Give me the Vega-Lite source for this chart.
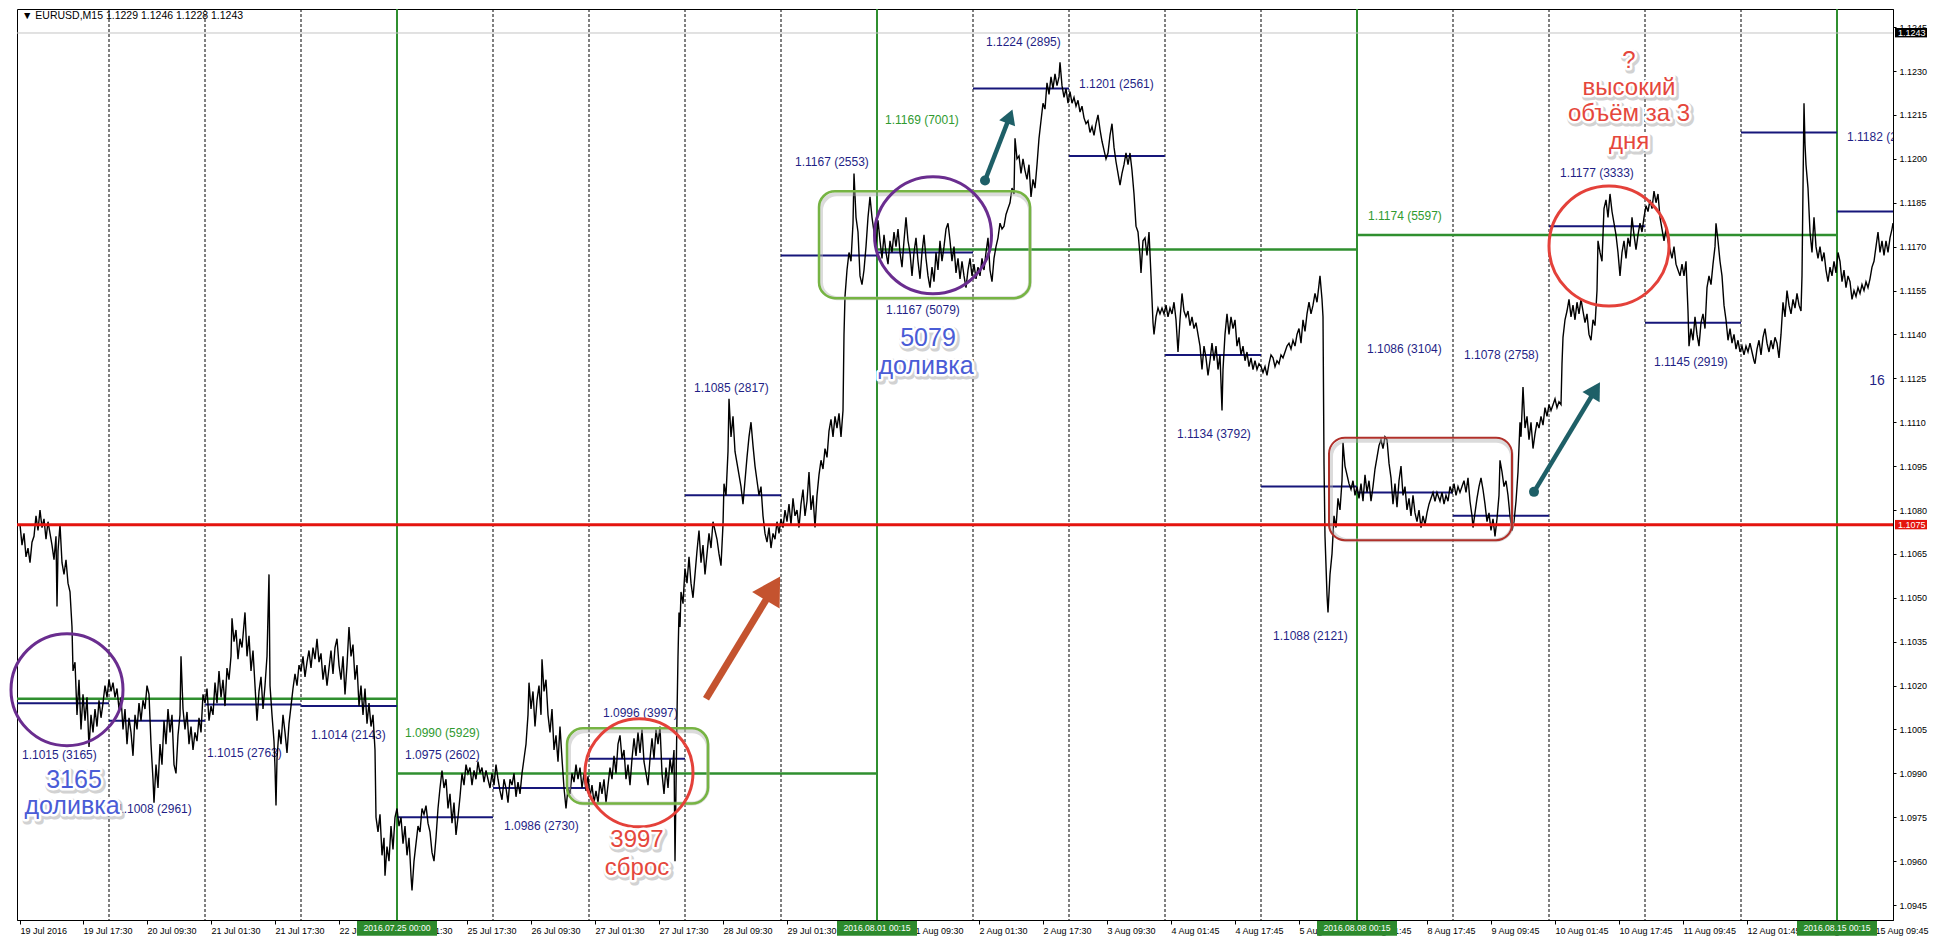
{
"$schema":"https://vega.github.io/schema/vega-lite/v6.json",
"width":1876,"height":911,
"autosize":{"type":"none"},
"padding":{"left":17,"top":9,"right":42,"bottom":23},
"background":"white",
"config":{"view":{"stroke":"#000","strokeWidth":1},"axis":{"labelFont":"Liberation Sans","labelFontSize":9,"labelColor":"#000","domainColor":"#000","tickColor":"#000","grid":false},"text":{"font":"Liberation Sans"}},
"datasets":{
"days":[{"b":96},{"b":192},{"b":288},{"b":480},{"b":576},{"b":672},{"b":768},{"b":960},{"b":1056},{"b":1152},{"b":1248},{"b":1440},{"b":1536},{"b":1632},{"b":1728}],
"weeks":[{"b":384},{"b":864},{"b":1344},{"b":1824}],
"dayLevels":[{"b":4,"b2":96,"p":1.1014},{"b":96,"b2":192,"p":1.1008},{"b":192,"b2":288,"p":1.10135},{"b":288,"b2":384,"p":1.1013},{"b":384,"b2":480,"p":1.0975},{"b":480,"b2":576,"p":1.0985},{"b":576,"b2":672,"p":1.0995},{"b":672,"b2":768,"p":1.1085},{"b":768,"b2":864,"p":1.1167},{"b":864,"b2":960,"p":1.1168},{"b":960,"b2":1056,"p":1.1224},{"b":1056,"b2":1152,"p":1.1201},{"b":1152,"b2":1248,"p":1.1133},{"b":1248,"b2":1344,"p":1.1088},{"b":1344,"b2":1440,"p":1.1086},{"b":1440,"b2":1536,"p":1.1078},{"b":1536,"b2":1632,"p":1.1177},{"b":1632,"b2":1728,"p":1.1144},{"b":1728,"b2":1824,"p":1.1209},{"b":1824,"b2":1880,"p":1.1182}],
"weekLevels":[{"b":4,"b2":384,"p":1.10155},{"b":384,"b2":864,"p":1.099},{"b":864,"b2":1344,"p":1.1169},{"b":1344,"b2":1824,"p":1.1174}],
"navyLabels":[{"b":9,"p":1.09963,"t":"1.1015 (3165)"},{"b":104,"p":1.0978,"t":"1.1008 (2961)"},{"b":194,"p":1.09969,"t":"1.1015 (2763)"},{"b":298,"p":1.1003,"t":"1.1014 (2143)"},{"b":392,"p":1.09963,"t":"1.0975 (2602)"},{"b":491,"p":1.0972,"t":"1.0986 (2730)"},{"b":590,"p":1.10105,"t":"1.0996 (3997)"},{"b":681,"p":1.11216,"t":"1.1085 (2817)"},{"b":782,"p":1.1199,"t":"1.1167 (2553)"},{"b":873,"p":1.11483,"t":"1.1167 (5079)"},{"b":973,"p":1.12399,"t":"1.1224 (2895)"},{"b":1066,"p":1.12257,"t":"1.1201 (2561)"},{"b":1164,"p":1.11061,"t":"1.1134 (3792)"},{"b":1260,"p":1.10368,"t":"1.1088 (2121)"},{"b":1354,"p":1.11351,"t":"1.1086 (3104)"},{"b":1451,"p":1.11331,"t":"1.1078 (2758)"},{"b":1547,"p":1.11953,"t":"1.1177 (3333)"},{"b":1641,"p":1.11307,"t":"1.1145 (2919)"},{"b":1834,"p":1.12075,"t":"1.1182 (2810)"}],
"greenLabels":[{"b":392,"p":1.10038,"t":"1.0990 (5929)"},{"b":872,"p":1.12132,"t":"1.1169 (7001)"},{"b":1355,"p":1.11803,"t":"1.1174 (5597)"}],
"blueNotes":[{"b":61,"p":1.09878,"t":"3165"},{"b":59,"p":1.09789,"t":"доливка"},{"b":915,"p":1.11388,"t":"5079"},{"b":913,"p":1.11293,"t":"доливка"}],
"redNotes":[{"b":624,"p":1.09673,"t":"3997"},{"b":624,"p":1.09575,"t":"сброс"},{"b":1616,"p":1.12334,"t":"?"},{"b":1616,"p":1.12242,"t":"высокий"},{"b":1616,"p":1.12152,"t":"объём за 3"},{"b":1616,"p":1.12058,"t":"дня"}],
"weekBoxes":[{"b":344,"b2":424,"c":384,"t":"2016.07.25 00:00"},{"b":824,"b2":904,"c":864,"t":"2016.08.01 00:15"},{"b":1304,"b2":1384,"c":1344,"t":"2016.08.08 00:15"},{"b":1784,"b2":1864,"c":1824,"t":"2016.08.15 00:15"}],
"price":[{"b":7,"p":1.1075},{"b":9,"p":1.1068},{"b":11,"p":1.1072},{"b":13,"p":1.1064},{"b":15,"p":1.1067},{"b":17,"p":1.1062},{"b":19,"p":1.1069},{"b":21,"p":1.1071},{"b":23,"p":1.1078},{"b":25,"p":1.1073},{"b":27,"p":1.108},{"b":29,"p":1.1074},{"b":31,"p":1.1077},{"b":33,"p":1.107},{"b":35,"p":1.1076},{"b":37,"p":1.1072},{"b":39,"p":1.1068},{"b":41,"p":1.1063},{"b":43,"p":1.1071},{"b":44,"p":1.1047},{"b":45,"p":1.1066},{"b":47,"p":1.1075},{"b":49,"p":1.1062},{"b":51,"p":1.1058},{"b":53,"p":1.1063},{"b":55,"p":1.1055},{"b":57,"p":1.1052},{"b":59,"p":1.104},{"b":60,"p":1.1025},{"b":62,"p":1.1028},{"b":64,"p":1.101},{"b":66,"p":1.1022},{"b":68,"p":1.1005},{"b":70,"p":1.1017},{"b":72,"p":1.1008},{"b":74,"p":1.1016},{"b":76,"p":1.0999},{"b":78,"p":1.101},{"b":80,"p":1.1004},{"b":82,"p":1.1012},{"b":84,"p":1.1006},{"b":86,"p":1.1015},{"b":88,"p":1.1009},{"b":90,"p":1.1014},{"b":92,"p":1.102},{"b":94,"p":1.1016},{"b":96,"p":1.1022},{"b":98,"p":1.1018},{"b":100,"p":1.1021},{"b":102,"p":1.1016},{"b":104,"p":1.1019},{"b":106,"p":1.1012},{"b":108,"p":1.1016},{"b":110,"p":1.1005},{"b":112,"p":1.1012},{"b":114,"p":1.1},{"b":116,"p":1.1009},{"b":118,"p":1.1004},{"b":120,"p":1.0996},{"b":122,"p":1.101},{"b":124,"p":1.1005},{"b":126,"p":1.1014},{"b":128,"p":1.1008},{"b":130,"p":1.1015},{"b":132,"p":1.1012},{"b":134,"p":1.102},{"b":136,"p":1.1017},{"b":138,"p":1.1},{"b":140,"p":1.0988},{"b":141,"p":1.098},{"b":143,"p":1.0993},{"b":145,"p":1.0985},{"b":147,"p":1.1},{"b":149,"p":1.0993},{"b":151,"p":1.1008},{"b":153,"p":1.1},{"b":155,"p":1.1012},{"b":157,"p":1.1004},{"b":159,"p":1.101},{"b":161,"p":1.0993},{"b":163,"p":1.099},{"b":165,"p":1.1003},{"b":167,"p":1.101},{"b":168,"p":1.103},{"b":170,"p":1.1012},{"b":172,"p":1.1005},{"b":174,"p":1.1011},{"b":176,"p":1.1},{"b":178,"p":1.1006},{"b":180,"p":1.0998},{"b":182,"p":1.1004},{"b":184,"p":1.1001},{"b":186,"p":1.1009},{"b":188,"p":1.1004},{"b":190,"p":1.1017},{"b":192,"p":1.1014},{"b":194,"p":1.1019},{"b":196,"p":1.1008},{"b":198,"p":1.1013},{"b":200,"p":1.101},{"b":202,"p":1.1021},{"b":204,"p":1.1014},{"b":206,"p":1.1025},{"b":208,"p":1.1016},{"b":210,"p":1.1022},{"b":212,"p":1.1013},{"b":214,"p":1.1026},{"b":216,"p":1.1022},{"b":218,"p":1.103},{"b":219,"p":1.1043},{"b":221,"p":1.1035},{"b":223,"p":1.1039},{"b":225,"p":1.1029},{"b":227,"p":1.1036},{"b":229,"p":1.1033},{"b":231,"p":1.1041},{"b":232,"p":1.1045},{"b":234,"p":1.103},{"b":236,"p":1.1037},{"b":238,"p":1.1025},{"b":240,"p":1.1032},{"b":242,"p":1.102},{"b":244,"p":1.1008},{"b":246,"p":1.1018},{"b":248,"p":1.1023},{"b":250,"p":1.1012},{"b":252,"p":1.102},{"b":254,"p":1.103},{"b":256,"p":1.1058},{"b":257,"p":1.102},{"b":259,"p":1.101},{"b":261,"p":1.1001},{"b":262,"p":1.0992},{"b":263,"p":1.0979},{"b":264,"p":1.0995},{"b":266,"p":1.1005},{"b":268,"p":1.1},{"b":270,"p":1.101},{"b":272,"p":1.1004},{"b":274,"p":1.0997},{"b":276,"p":1.1007},{"b":278,"p":1.1013},{"b":280,"p":1.1019},{"b":282,"p":1.1024},{"b":284,"p":1.102},{"b":286,"p":1.1027},{"b":288,"p":1.1025},{"b":290,"p":1.103},{"b":292,"p":1.1023},{"b":294,"p":1.1028},{"b":296,"p":1.1032},{"b":298,"p":1.1026},{"b":300,"p":1.1033},{"b":302,"p":1.1029},{"b":304,"p":1.1036},{"b":306,"p":1.1028},{"b":308,"p":1.1031},{"b":310,"p":1.1022},{"b":312,"p":1.1027},{"b":314,"p":1.102},{"b":316,"p":1.1026},{"b":318,"p":1.1032},{"b":320,"p":1.1024},{"b":322,"p":1.1033},{"b":324,"p":1.1036},{"b":326,"p":1.1027},{"b":328,"p":1.1022},{"b":330,"p":1.103},{"b":332,"p":1.1017},{"b":334,"p":1.1027},{"b":336,"p":1.104},{"b":338,"p":1.103},{"b":340,"p":1.1034},{"b":342,"p":1.1022},{"b":344,"p":1.1027},{"b":346,"p":1.1013},{"b":348,"p":1.102},{"b":350,"p":1.101},{"b":352,"p":1.1019},{"b":354,"p":1.1007},{"b":356,"p":1.1014},{"b":358,"p":1.1006},{"b":360,"p":1.101},{"b":362,"p":1.0998},{"b":363,"p":1.0975},{"b":365,"p":1.097},{"b":367,"p":1.0976},{"b":369,"p":1.0962},{"b":371,"p":1.0968},{"b":372,"p":1.0955},{"b":374,"p":1.0965},{"b":376,"p":1.096},{"b":378,"p":1.0972},{"b":380,"p":1.0964},{"b":382,"p":1.0975},{"b":384,"p":1.0978},{"b":386,"p":1.0972},{"b":388,"p":1.0975},{"b":390,"p":1.0966},{"b":392,"p":1.0972},{"b":394,"p":1.0962},{"b":396,"p":1.0968},{"b":398,"p":1.0955},{"b":399,"p":1.095},{"b":401,"p":1.096},{"b":403,"p":1.0966},{"b":405,"p":1.0972},{"b":407,"p":1.097},{"b":409,"p":1.0978},{"b":411,"p":1.0976},{"b":413,"p":1.0979},{"b":415,"p":1.0973},{"b":417,"p":1.097},{"b":419,"p":1.0963},{"b":421,"p":1.096},{"b":423,"p":1.0968},{"b":425,"p":1.0978},{"b":427,"p":1.0985},{"b":429,"p":1.0991},{"b":431,"p":1.0985},{"b":433,"p":1.0988},{"b":435,"p":1.0978},{"b":437,"p":1.0983},{"b":439,"p":1.0973},{"b":441,"p":1.098},{"b":443,"p":1.0969},{"b":445,"p":1.0975},{"b":447,"p":1.0982},{"b":449,"p":1.099},{"b":451,"p":1.0986},{"b":453,"p":1.0993},{"b":455,"p":1.099},{"b":457,"p":1.0992},{"b":459,"p":1.0986},{"b":461,"p":1.0991},{"b":463,"p":1.0988},{"b":465,"p":1.0994},{"b":467,"p":1.099},{"b":469,"p":1.0992},{"b":471,"p":1.0987},{"b":473,"p":1.0991},{"b":475,"p":1.0988},{"b":477,"p":1.0985},{"b":479,"p":1.099},{"b":481,"p":1.0986},{"b":483,"p":1.0993},{"b":485,"p":1.0988},{"b":487,"p":1.0984},{"b":489,"p":1.0981},{"b":491,"p":1.0988},{"b":493,"p":1.0985},{"b":495,"p":1.098},{"b":497,"p":1.0988},{"b":499,"p":1.0986},{"b":501,"p":1.099},{"b":503,"p":1.0982},{"b":505,"p":1.0987},{"b":507,"p":1.0983},{"b":509,"p":1.099},{"b":511,"p":1.0995},{"b":513,"p":1.1},{"b":515,"p":1.101},{"b":516,"p":1.1021},{"b":518,"p":1.1012},{"b":520,"p":1.1018},{"b":522,"p":1.1006},{"b":524,"p":1.1015},{"b":526,"p":1.102},{"b":528,"p":1.101},{"b":529,"p":1.1029},{"b":531,"p":1.1018},{"b":533,"p":1.1022},{"b":535,"p":1.101},{"b":537,"p":1.1004},{"b":539,"p":1.1012},{"b":541,"p":1.0998},{"b":543,"p":1.1003},{"b":545,"p":1.0994},{"b":547,"p":1.1006},{"b":549,"p":1.0995},{"b":551,"p":1.0985},{"b":553,"p":1.0978},{"b":555,"p":1.0985},{"b":557,"p":1.0983},{"b":559,"p":1.099},{"b":561,"p":1.0987},{"b":563,"p":1.0993},{"b":565,"p":1.0988},{"b":567,"p":1.0992},{"b":569,"p":1.0985},{"b":571,"p":1.099},{"b":573,"p":1.0984},{"b":575,"p":1.0989},{"b":577,"p":1.0982},{"b":579,"p":1.0986},{"b":581,"p":1.098},{"b":583,"p":1.0984},{"b":585,"p":1.098},{"b":587,"p":1.0987},{"b":589,"p":1.0983},{"b":591,"p":1.0988},{"b":593,"p":1.098},{"b":595,"p":1.0986},{"b":597,"p":1.0992},{"b":599,"p":1.0988},{"b":601,"p":1.0996},{"b":603,"p":1.099},{"b":605,"p":1.1},{"b":607,"p":1.1003},{"b":609,"p":1.0995},{"b":611,"p":1.0998},{"b":613,"p":1.0988},{"b":615,"p":1.0993},{"b":617,"p":1.0986},{"b":619,"p":1.0995},{"b":621,"p":1.1002},{"b":623,"p":1.0996},{"b":625,"p":1.1004},{"b":627,"p":1.0997},{"b":629,"p":1.1005},{"b":631,"p":1.0994},{"b":633,"p":1.099},{"b":635,"p":1.0986},{"b":637,"p":1.0995},{"b":639,"p":1.1002},{"b":641,"p":1.0995},{"b":643,"p":1.1005},{"b":645,"p":1.1},{"b":647,"p":1.1006},{"b":649,"p":1.099},{"b":651,"p":1.0983},{"b":653,"p":1.0992},{"b":655,"p":1.0985},{"b":657,"p":1.0995},{"b":659,"p":1.099},{"b":661,"p":1.0998},{"b":662,"p":1.096},{"b":663,"p":1.0985},{"b":664,"p":1.101},{"b":665,"p":1.103},{"b":666,"p":1.1045},{"b":667,"p":1.104},{"b":668,"p":1.1052},{"b":670,"p":1.1048},{"b":672,"p":1.106},{"b":674,"p":1.1055},{"b":676,"p":1.1064},{"b":678,"p":1.1055},{"b":680,"p":1.105},{"b":682,"p":1.1058},{"b":684,"p":1.1066},{"b":686,"p":1.1073},{"b":688,"p":1.1062},{"b":690,"p":1.1068},{"b":692,"p":1.1058},{"b":694,"p":1.1065},{"b":696,"p":1.1072},{"b":698,"p":1.1067},{"b":700,"p":1.1076},{"b":702,"p":1.1073},{"b":704,"p":1.107},{"b":706,"p":1.1065},{"b":708,"p":1.1061},{"b":710,"p":1.1075},{"b":711,"p":1.1089},{"b":713,"p":1.1085},{"b":715,"p":1.11},{"b":716,"p":1.1118},{"b":718,"p":1.1105},{"b":720,"p":1.1112},{"b":722,"p":1.11},{"b":724,"p":1.1096},{"b":726,"p":1.1092},{"b":728,"p":1.1088},{"b":730,"p":1.1082},{"b":732,"p":1.109},{"b":734,"p":1.1098},{"b":736,"p":1.1105},{"b":738,"p":1.111},{"b":740,"p":1.1102},{"b":742,"p":1.1095},{"b":744,"p":1.109},{"b":746,"p":1.1085},{"b":748,"p":1.1088},{"b":750,"p":1.1078},{"b":752,"p":1.1072},{"b":754,"p":1.1069},{"b":756,"p":1.1074},{"b":758,"p":1.1067},{"b":760,"p":1.1072},{"b":762,"p":1.107},{"b":764,"p":1.1076},{"b":766,"p":1.1072},{"b":768,"p":1.1077},{"b":770,"p":1.1074},{"b":772,"p":1.108},{"b":774,"p":1.1076},{"b":776,"p":1.1082},{"b":778,"p":1.1075},{"b":780,"p":1.1084},{"b":782,"p":1.1078},{"b":784,"p":1.108},{"b":786,"p":1.1074},{"b":788,"p":1.1082},{"b":790,"p":1.1087},{"b":792,"p":1.1078},{"b":794,"p":1.1083},{"b":796,"p":1.1093},{"b":798,"p":1.108},{"b":800,"p":1.1085},{"b":802,"p":1.1074},{"b":804,"p":1.1085},{"b":806,"p":1.1092},{"b":808,"p":1.1097},{"b":810,"p":1.1094},{"b":812,"p":1.1101},{"b":814,"p":1.1098},{"b":816,"p":1.1107},{"b":818,"p":1.1111},{"b":820,"p":1.1105},{"b":822,"p":1.1112},{"b":824,"p":1.1108},{"b":826,"p":1.1113},{"b":828,"p":1.1105},{"b":830,"p":1.1114},{"b":831,"p":1.114},{"b":832,"p":1.1153},{"b":834,"p":1.1162},{"b":836,"p":1.1168},{"b":838,"p":1.1165},{"b":840,"p":1.1178},{"b":841,"p":1.1195},{"b":843,"p":1.118},{"b":845,"p":1.1175},{"b":847,"p":1.116},{"b":849,"p":1.1157},{"b":851,"p":1.1162},{"b":853,"p":1.117},{"b":855,"p":1.118},{"b":857,"p":1.1187},{"b":859,"p":1.118},{"b":861,"p":1.1175},{"b":863,"p":1.117},{"b":865,"p":1.1179},{"b":867,"p":1.1172},{"b":869,"p":1.1166},{"b":871,"p":1.1174},{"b":873,"p":1.1168},{"b":875,"p":1.1164},{"b":877,"p":1.1172},{"b":879,"p":1.1168},{"b":881,"p":1.1175},{"b":883,"p":1.117},{"b":885,"p":1.1176},{"b":887,"p":1.1168},{"b":889,"p":1.1163},{"b":891,"p":1.1172},{"b":893,"p":1.118},{"b":895,"p":1.1172},{"b":897,"p":1.1168},{"b":899,"p":1.116},{"b":901,"p":1.1168},{"b":903,"p":1.1173},{"b":905,"p":1.1165},{"b":907,"p":1.1159},{"b":909,"p":1.1168},{"b":911,"p":1.1174},{"b":913,"p":1.1166},{"b":915,"p":1.116},{"b":917,"p":1.1156},{"b":919,"p":1.1163},{"b":921,"p":1.1158},{"b":923,"p":1.1168},{"b":925,"p":1.1162},{"b":927,"p":1.1172},{"b":929,"p":1.1165},{"b":931,"p":1.117},{"b":933,"p":1.1176},{"b":935,"p":1.1178},{"b":937,"p":1.1172},{"b":939,"p":1.1165},{"b":941,"p":1.117},{"b":943,"p":1.1161},{"b":945,"p":1.1166},{"b":947,"p":1.1159},{"b":949,"p":1.1165},{"b":951,"p":1.116},{"b":953,"p":1.1156},{"b":955,"p":1.1162},{"b":957,"p":1.1166},{"b":959,"p":1.116},{"b":961,"p":1.1164},{"b":963,"p":1.1159},{"b":965,"p":1.1163},{"b":967,"p":1.116},{"b":969,"p":1.1166},{"b":971,"p":1.1162},{"b":973,"p":1.1168},{"b":975,"p":1.1173},{"b":977,"p":1.1162},{"b":979,"p":1.1158},{"b":981,"p":1.1166},{"b":983,"p":1.117},{"b":985,"p":1.1173},{"b":987,"p":1.1178},{"b":989,"p":1.1176},{"b":991,"p":1.1177},{"b":993,"p":1.1181},{"b":995,"p":1.1183},{"b":997,"p":1.1185},{"b":999,"p":1.119},{"b":1001,"p":1.1188},{"b":1002,"p":1.1207},{"b":1004,"p":1.12},{"b":1006,"p":1.1201},{"b":1008,"p":1.1195},{"b":1010,"p":1.12},{"b":1012,"p":1.1196},{"b":1014,"p":1.1193},{"b":1016,"p":1.1198},{"b":1018,"p":1.1187},{"b":1020,"p":1.1193},{"b":1022,"p":1.119},{"b":1024,"p":1.1198},{"b":1026,"p":1.1207},{"b":1028,"p":1.1213},{"b":1030,"p":1.1219},{"b":1032,"p":1.1217},{"b":1034,"p":1.1226},{"b":1036,"p":1.1222},{"b":1038,"p":1.1228},{"b":1040,"p":1.1224},{"b":1042,"p":1.1229},{"b":1044,"p":1.1225},{"b":1046,"p":1.1228},{"b":1047,"p":1.1233},{"b":1049,"p":1.1225},{"b":1051,"p":1.1221},{"b":1053,"p":1.1224},{"b":1055,"p":1.1219},{"b":1057,"p":1.1223},{"b":1059,"p":1.1219},{"b":1061,"p":1.1221},{"b":1063,"p":1.1218},{"b":1065,"p":1.122},{"b":1067,"p":1.1216},{"b":1069,"p":1.1218},{"b":1071,"p":1.1214},{"b":1073,"p":1.1212},{"b":1075,"p":1.1213},{"b":1077,"p":1.1209},{"b":1079,"p":1.1211},{"b":1081,"p":1.1208},{"b":1083,"p":1.1212},{"b":1085,"p":1.1215},{"b":1087,"p":1.121},{"b":1089,"p":1.1206},{"b":1091,"p":1.1203},{"b":1093,"p":1.12},{"b":1095,"p":1.1202},{"b":1097,"p":1.1208},{"b":1099,"p":1.1212},{"b":1101,"p":1.1204},{"b":1103,"p":1.1199},{"b":1105,"p":1.1195},{"b":1107,"p":1.1191},{"b":1109,"p":1.1195},{"b":1111,"p":1.1198},{"b":1113,"p":1.1202},{"b":1115,"p":1.1198},{"b":1117,"p":1.1202},{"b":1119,"p":1.1196},{"b":1121,"p":1.1188},{"b":1123,"p":1.1177},{"b":1125,"p":1.1175},{"b":1127,"p":1.1167},{"b":1128,"p":1.1161},{"b":1130,"p":1.1172},{"b":1132,"p":1.1173},{"b":1134,"p":1.1167},{"b":1136,"p":1.1175},{"b":1138,"p":1.116},{"b":1140,"p":1.1144},{"b":1141,"p":1.114},{"b":1143,"p":1.1146},{"b":1145,"p":1.1149},{"b":1147,"p":1.1147},{"b":1149,"p":1.1149},{"b":1151,"p":1.1147},{"b":1153,"p":1.115},{"b":1155,"p":1.1146},{"b":1157,"p":1.1149},{"b":1159,"p":1.1147},{"b":1161,"p":1.1151},{"b":1163,"p":1.1145},{"b":1165,"p":1.1134},{"b":1167,"p":1.1145},{"b":1169,"p":1.1154},{"b":1171,"p":1.1148},{"b":1173,"p":1.1146},{"b":1175,"p":1.1148},{"b":1177,"p":1.1143},{"b":1179,"p":1.1146},{"b":1181,"p":1.1142},{"b":1183,"p":1.1144},{"b":1185,"p":1.114},{"b":1187,"p":1.1136},{"b":1189,"p":1.1128},{"b":1191,"p":1.1136},{"b":1193,"p":1.1132},{"b":1195,"p":1.1126},{"b":1197,"p":1.1131},{"b":1199,"p":1.1137},{"b":1201,"p":1.1131},{"b":1203,"p":1.1136},{"b":1205,"p":1.1128},{"b":1207,"p":1.1133},{"b":1209,"p":1.1114},{"b":1210,"p":1.1128},{"b":1212,"p":1.114},{"b":1214,"p":1.1147},{"b":1216,"p":1.114},{"b":1218,"p":1.1146},{"b":1220,"p":1.1142},{"b":1222,"p":1.1145},{"b":1224,"p":1.1136},{"b":1226,"p":1.1139},{"b":1228,"p":1.1133},{"b":1230,"p":1.1136},{"b":1232,"p":1.1131},{"b":1234,"p":1.1134},{"b":1236,"p":1.1129},{"b":1238,"p":1.1132},{"b":1240,"p":1.1128},{"b":1242,"p":1.1131},{"b":1244,"p":1.1128},{"b":1246,"p":1.113},{"b":1248,"p":1.1129},{"b":1250,"p":1.1127},{"b":1252,"p":1.1129},{"b":1254,"p":1.1126},{"b":1256,"p":1.113},{"b":1258,"p":1.1133},{"b":1260,"p":1.1132},{"b":1262,"p":1.1129},{"b":1264,"p":1.1131},{"b":1266,"p":1.113},{"b":1268,"p":1.1133},{"b":1270,"p":1.1132},{"b":1272,"p":1.1134},{"b":1274,"p":1.1136},{"b":1276,"p":1.1137},{"b":1278,"p":1.1135},{"b":1280,"p":1.1138},{"b":1282,"p":1.1136},{"b":1284,"p":1.114},{"b":1286,"p":1.1142},{"b":1288,"p":1.1137},{"b":1290,"p":1.1145},{"b":1292,"p":1.1141},{"b":1294,"p":1.1147},{"b":1296,"p":1.1151},{"b":1298,"p":1.1147},{"b":1300,"p":1.115},{"b":1302,"p":1.1154},{"b":1304,"p":1.1151},{"b":1306,"p":1.1157},{"b":1307,"p":1.116},{"b":1309,"p":1.1152},{"b":1310,"p":1.1146},{"b":1311,"p":1.1096},{"b":1312,"p":1.1071},{"b":1313,"p":1.1061},{"b":1314,"p":1.1051},{"b":1315,"p":1.1045},{"b":1317,"p":1.1058},{"b":1319,"p":1.1065},{"b":1321,"p":1.1078},{"b":1323,"p":1.1074},{"b":1325,"p":1.1084},{"b":1327,"p":1.108},{"b":1329,"p":1.109},{"b":1330,"p":1.1103},{"b":1332,"p":1.1095},{"b":1334,"p":1.1092},{"b":1336,"p":1.1089},{"b":1338,"p":1.1087},{"b":1340,"p":1.109},{"b":1342,"p":1.1085},{"b":1344,"p":1.1088},{"b":1346,"p":1.1084},{"b":1348,"p":1.1089},{"b":1350,"p":1.1083},{"b":1352,"p":1.1092},{"b":1354,"p":1.1086},{"b":1356,"p":1.109},{"b":1358,"p":1.1083},{"b":1360,"p":1.1088},{"b":1362,"p":1.1094},{"b":1364,"p":1.1098},{"b":1366,"p":1.1102},{"b":1368,"p":1.1104},{"b":1370,"p":1.1101},{"b":1372,"p":1.1105},{"b":1374,"p":1.1104},{"b":1376,"p":1.1096},{"b":1378,"p":1.1091},{"b":1380,"p":1.1082},{"b":1382,"p":1.1089},{"b":1384,"p":1.1081},{"b":1386,"p":1.109},{"b":1388,"p":1.1095},{"b":1390,"p":1.1085},{"b":1392,"p":1.1088},{"b":1394,"p":1.108},{"b":1396,"p":1.1084},{"b":1398,"p":1.1078},{"b":1400,"p":1.1085},{"b":1402,"p":1.1079},{"b":1404,"p":1.1076},{"b":1406,"p":1.108},{"b":1408,"p":1.1074},{"b":1410,"p":1.1078},{"b":1412,"p":1.1075},{"b":1414,"p":1.1079},{"b":1416,"p":1.1082},{"b":1418,"p":1.1084},{"b":1420,"p":1.1086},{"b":1422,"p":1.1083},{"b":1424,"p":1.1086},{"b":1427,"p":1.1083},{"b":1429,"p":1.1086},{"b":1431,"p":1.1082},{"b":1433,"p":1.1085},{"b":1435,"p":1.1083},{"b":1437,"p":1.1088},{"b":1439,"p":1.1086},{"b":1441,"p":1.1089},{"b":1443,"p":1.1085},{"b":1445,"p":1.1088},{"b":1447,"p":1.1086},{"b":1449,"p":1.1088},{"b":1451,"p":1.109},{"b":1453,"p":1.1086},{"b":1455,"p":1.1091},{"b":1457,"p":1.1083},{"b":1459,"p":1.1078},{"b":1460,"p":1.1074},{"b":1462,"p":1.1079},{"b":1464,"p":1.1084},{"b":1466,"p":1.1088},{"b":1468,"p":1.1091},{"b":1470,"p":1.1087},{"b":1472,"p":1.1082},{"b":1474,"p":1.1076},{"b":1476,"p":1.1079},{"b":1478,"p":1.1073},{"b":1480,"p":1.1077},{"b":1482,"p":1.1071},{"b":1484,"p":1.1077},{"b":1486,"p":1.1085},{"b":1487,"p":1.1097},{"b":1489,"p":1.1093},{"b":1491,"p":1.1088},{"b":1493,"p":1.109},{"b":1495,"p":1.1085},{"b":1497,"p":1.1078},{"b":1499,"p":1.1073},{"b":1501,"p":1.1076},{"b":1503,"p":1.1083},{"b":1505,"p":1.1093},{"b":1507,"p":1.111},{"b":1508,"p":1.1105},{"b":1510,"p":1.1122},{"b":1512,"p":1.1108},{"b":1514,"p":1.1112},{"b":1516,"p":1.1104},{"b":1518,"p":1.111},{"b":1520,"p":1.1101},{"b":1522,"p":1.1106},{"b":1524,"p":1.111},{"b":1526,"p":1.1108},{"b":1528,"p":1.1112},{"b":1530,"p":1.1109},{"b":1532,"p":1.1115},{"b":1534,"p":1.1112},{"b":1536,"p":1.1116},{"b":1538,"p":1.1114},{"b":1540,"p":1.1116},{"b":1542,"p":1.1118},{"b":1544,"p":1.1115},{"b":1546,"p":1.1117},{"b":1548,"p":1.1116},{"b":1549,"p":1.113},{"b":1550,"p":1.1139},{"b":1552,"p":1.1145},{"b":1554,"p":1.1148},{"b":1556,"p":1.1152},{"b":1558,"p":1.1146},{"b":1560,"p":1.115},{"b":1562,"p":1.1145},{"b":1564,"p":1.1151},{"b":1566,"p":1.1147},{"b":1568,"p":1.1152},{"b":1570,"p":1.1148},{"b":1572,"p":1.1144},{"b":1574,"p":1.1147},{"b":1576,"p":1.114},{"b":1578,"p":1.1138},{"b":1580,"p":1.1145},{"b":1582,"p":1.1143},{"b":1584,"p":1.1155},{"b":1585,"p":1.1172},{"b":1587,"p":1.1168},{"b":1589,"p":1.1165},{"b":1591,"p":1.1183},{"b":1593,"p":1.1186},{"b":1595,"p":1.118},{"b":1597,"p":1.1188},{"b":1599,"p":1.1182},{"b":1601,"p":1.1178},{"b":1603,"p":1.1174},{"b":1605,"p":1.1168},{"b":1607,"p":1.116},{"b":1609,"p":1.1168},{"b":1611,"p":1.1172},{"b":1613,"p":1.1166},{"b":1615,"p":1.1173},{"b":1617,"p":1.117},{"b":1619,"p":1.118},{"b":1621,"p":1.1174},{"b":1623,"p":1.1169},{"b":1625,"p":1.1174},{"b":1627,"p":1.1178},{"b":1629,"p":1.1175},{"b":1631,"p":1.118},{"b":1633,"p":1.1184},{"b":1635,"p":1.1182},{"b":1637,"p":1.1186},{"b":1639,"p":1.1183},{"b":1641,"p":1.1189},{"b":1643,"p":1.1185},{"b":1645,"p":1.1188},{"b":1647,"p":1.118},{"b":1649,"p":1.1176},{"b":1651,"p":1.1172},{"b":1653,"p":1.1176},{"b":1655,"p":1.1172},{"b":1657,"p":1.1169},{"b":1659,"p":1.1166},{"b":1661,"p":1.117},{"b":1663,"p":1.1164},{"b":1665,"p":1.1162},{"b":1667,"p":1.116},{"b":1669,"p":1.1164},{"b":1671,"p":1.116},{"b":1673,"p":1.1165},{"b":1675,"p":1.1148},{"b":1676,"p":1.1136},{"b":1678,"p":1.1142},{"b":1680,"p":1.1138},{"b":1682,"p":1.1146},{"b":1684,"p":1.114},{"b":1686,"p":1.1136},{"b":1688,"p":1.1144},{"b":1690,"p":1.1147},{"b":1692,"p":1.1142},{"b":1694,"p":1.1156},{"b":1696,"p":1.116},{"b":1698,"p":1.1157},{"b":1700,"p":1.1164},{"b":1702,"p":1.117},{"b":1703,"p":1.1178},{"b":1705,"p":1.1172},{"b":1707,"p":1.1165},{"b":1709,"p":1.116},{"b":1711,"p":1.115},{"b":1713,"p":1.1145},{"b":1715,"p":1.1138},{"b":1717,"p":1.1142},{"b":1719,"p":1.1137},{"b":1721,"p":1.114},{"b":1723,"p":1.1135},{"b":1725,"p":1.1138},{"b":1727,"p":1.1134},{"b":1729,"p":1.1136},{"b":1731,"p":1.1133},{"b":1733,"p":1.1136},{"b":1735,"p":1.1134},{"b":1737,"p":1.1137},{"b":1739,"p":1.1134},{"b":1741,"p":1.1131},{"b":1742,"p":1.113},{"b":1744,"p":1.1135},{"b":1746,"p":1.1138},{"b":1748,"p":1.1133},{"b":1750,"p":1.1139},{"b":1752,"p":1.1142},{"b":1754,"p":1.1137},{"b":1756,"p":1.1134},{"b":1758,"p":1.1138},{"b":1760,"p":1.1135},{"b":1762,"p":1.1139},{"b":1764,"p":1.1137},{"b":1766,"p":1.1132},{"b":1768,"p":1.114},{"b":1770,"p":1.1151},{"b":1772,"p":1.1146},{"b":1774,"p":1.1155},{"b":1776,"p":1.115},{"b":1778,"p":1.1147},{"b":1780,"p":1.1152},{"b":1782,"p":1.1149},{"b":1784,"p":1.1154},{"b":1786,"p":1.115},{"b":1788,"p":1.1148},{"b":1789,"p":1.116},{"b":1790,"p":1.119},{"b":1791,"p":1.1219},{"b":1792,"p":1.1205},{"b":1793,"p":1.1198},{"b":1795,"p":1.119},{"b":1797,"p":1.1175},{"b":1799,"p":1.1168},{"b":1801,"p":1.118},{"b":1803,"p":1.117},{"b":1805,"p":1.1166},{"b":1807,"p":1.117},{"b":1809,"p":1.1165},{"b":1811,"p":1.1168},{"b":1813,"p":1.1162},{"b":1815,"p":1.1158},{"b":1817,"p":1.1163},{"b":1819,"p":1.116},{"b":1821,"p":1.1165},{"b":1823,"p":1.1161},{"b":1825,"p":1.1168},{"b":1827,"p":1.1165},{"b":1829,"p":1.1158},{"b":1831,"p":1.1162},{"b":1833,"p":1.1156},{"b":1835,"p":1.116},{"b":1837,"p":1.1158},{"b":1839,"p":1.1152},{"b":1841,"p":1.1155},{"b":1843,"p":1.1153},{"b":1845,"p":1.1156},{"b":1847,"p":1.1154},{"b":1849,"p":1.1157},{"b":1851,"p":1.1155},{"b":1853,"p":1.1158},{"b":1855,"p":1.1156},{"b":1857,"p":1.1159},{"b":1859,"p":1.1163},{"b":1861,"p":1.1165},{"b":1863,"p":1.117},{"b":1865,"p":1.1175},{"b":1867,"p":1.1168},{"b":1869,"p":1.1172},{"b":1871,"p":1.1167},{"b":1873,"p":1.1172},{"b":1875,"p":1.1168},{"b":1877,"p":1.1173},{"b":1879,"p":1.1176},{"b":1880,"p":1.1178}]
},
"layer":[
{"data":{"name":"days"},"mark":{"type":"rule","color":"#000","strokeWidth":1,"strokeDash":[3,2]},"encoding":{"x":{"field":"b","type":"quantitative","scale":{"domain":[4,1880],"nice":false,"zero":false}}}},
{"data":{"name":"weeks"},"mark":{"type":"rule","color":"#2f8f2f","strokeWidth":2},"encoding":{"x":{"field":"b","type":"quantitative","scale":{"domain":[4,1880],"nice":false,"zero":false}}}},
{"data":{"values":[{"p":1.1243}]},"mark":{"type":"rule","color":"#c4c4c4","strokeWidth":1},"encoding":{"y":{"field":"p","type":"quantitative","scale":{"domain":[1.09399,1.12512],"nice":false,"zero":false}}}},
{"data":{"name":"weekLevels"},"mark":{"type":"rule","color":"#2f8f2f","strokeWidth":2.5},"encoding":{"x":{"field":"b","type":"quantitative","scale":{"domain":[4,1880],"nice":false,"zero":false}},"x2":{"field":"b2"},"y":{"field":"p","type":"quantitative","scale":{"domain":[1.09399,1.12512],"nice":false,"zero":false}}}},
{"data":{"name":"dayLevels"},"mark":{"type":"rule","color":"#16167a","strokeWidth":2},"encoding":{"x":{"field":"b","type":"quantitative","scale":{"domain":[4,1880],"nice":false,"zero":false}},"x2":{"field":"b2"},"y":{"field":"p","type":"quantitative","scale":{"domain":[1.09399,1.12512],"nice":false,"zero":false}}}},
{"data":{"name":"navyLabels"},"mark":{"type":"text","color":"#1f1f86","font":"Liberation Sans","fontSize":12,"align":"left","baseline":"middle","clip":true},"encoding":{"x":{"field":"b","type":"quantitative","scale":{"domain":[4,1880],"nice":false,"zero":false}},"y":{"field":"p","type":"quantitative","scale":{"domain":[1.09399,1.12512],"nice":false,"zero":false}},"text":{"field":"t"}}},
{"data":{"name":"greenLabels"},"mark":{"type":"text","color":"#2f9a2f","font":"Liberation Sans","fontSize":12,"align":"left","baseline":"middle"},"encoding":{"x":{"field":"b","type":"quantitative","scale":{"domain":[4,1880],"nice":false,"zero":false}},"y":{"field":"p","type":"quantitative","scale":{"domain":[1.09399,1.12512],"nice":false,"zero":false}},"text":{"field":"t"}}},
{"data":{"values":[{"b":1864,"p":1.1124,"t":"16"}]},"mark":{"type":"text","color":"#1f1f86","font":"Liberation Sans","fontSize":14,"align":"center","baseline":"middle"},"encoding":{"x":{"field":"b","type":"quantitative","scale":{"domain":[4,1880],"nice":false,"zero":false}},"y":{"field":"p","type":"quantitative","scale":{"domain":[1.09399,1.12512],"nice":false,"zero":false}},"text":{"field":"t"}}},
{"data":{"name":"price"},"mark":{"type":"line","color":"#000","strokeWidth":1.4},"encoding":{
"x":{"field":"b","type":"quantitative","scale":{"domain":[4,1880],"nice":false,"zero":false},"axis":{"orient":"bottom","title":null,"grid":false,"values":[7,70,134,198,262,326,390,454,518,582,646,710,774,838,902,966,1030,1094,1158,1222,1286,1350,1414,1478,1542,1606,1670,1734,1798,1862],"labelExpr":"['19 Jul 2016','19 Jul 17:30','20 Jul 09:30','21 Jul 01:30','21 Jul 17:30','22 Jul 09:30','25 Jul 01:30','25 Jul 17:30','26 Jul 09:30','27 Jul 01:30','27 Jul 17:30','28 Jul 09:30','29 Jul 01:30','29 Jul 17:30','1 Aug 09:30','2 Aug 01:30','2 Aug 17:30','3 Aug 09:30','4 Aug 01:45','4 Aug 17:45','5 Aug 09:45','8 Aug 01:45','8 Aug 17:45','9 Aug 09:45','10 Aug 01:45','10 Aug 17:45','11 Aug 09:45','12 Aug 01:45','12 Aug 17:45','15 Aug 09:45'][round((datum.value-6)/64)]","labelAlign":"left","labelBaseline":"top","labelPadding":2,"tickSize":4,"labelOverlap":false,"labelBound":false,"labelFlush":false}},
"y":{"field":"p","type":"quantitative","scale":{"domain":[1.09399,1.12512],"nice":false,"zero":false},"axis":{"orient":"right","title":null,"grid":false,"values":[1.0945,1.096,1.0975,1.099,1.1005,1.102,1.1035,1.105,1.1065,1.108,1.1095,1.111,1.1125,1.114,1.1155,1.117,1.1185,1.12,1.1215,1.123,1.1245],"format":".4f","tickSize":3,"labelPadding":3,"labelOverlap":false,"labelBound":false,"labelFlush":false}}}},
{"data":{"values":[{"p":1.1075}]},"mark":{"type":"rule","color":"#e4140e","strokeWidth":3},"encoding":{"y":{"field":"p","type":"quantitative","scale":{"domain":[1.09399,1.12512],"nice":false,"zero":false}}}},
{"data":{"values":[{"b":554,"b2":695,"p":1.10054,"p2":1.09797},{"b":806,"b2":1017,"p":1.11889,"p2":1.11524},{"b":1316,"b2":1499,"p":1.11047,"p2":1.10697}]},"mark":{"type":"rect","fill":"transparent","stroke":"#b0b0b0","strokeWidth":4,"strokeOpacity":0.45,"cornerRadius":16,"xOffset":2,"yOffset":3},"encoding":{"x":{"field":"b","type":"quantitative","scale":{"domain":[4,1880],"nice":false,"zero":false}},"x2":{"field":"b2"},"y":{"field":"p","type":"quantitative","scale":{"domain":[1.09399,1.12512],"nice":false,"zero":false}},"y2":{"field":"p2"}}},
{"data":{"values":[{"b":554,"b2":695,"p":1.10054,"p2":1.09797},{"b":806,"b2":1017,"p":1.11889,"p2":1.11524}]},"mark":{"type":"rect","fill":"transparent","stroke":"#76b443","strokeWidth":2.5,"cornerRadius":16},"encoding":{"x":{"field":"b","type":"quantitative","scale":{"domain":[4,1880],"nice":false,"zero":false}},"x2":{"field":"b2"},"y":{"field":"p","type":"quantitative","scale":{"domain":[1.09399,1.12512],"nice":false,"zero":false}},"y2":{"field":"p2"}}},
{"data":{"values":[{"b":1316,"b2":1499,"p":1.11047,"p2":1.10697}]},"mark":{"type":"rect","fill":"transparent","stroke":"#b0302a","strokeWidth":2,"cornerRadius":16},"encoding":{"x":{"field":"b","type":"quantitative","scale":{"domain":[4,1880],"nice":false,"zero":false}},"x2":{"field":"b2"},"y":{"field":"p","type":"quantitative","scale":{"domain":[1.09399,1.12512],"nice":false,"zero":false}},"y2":{"field":"p2"}}},
{"data":{"values":[{"b":54,"p":1.10186}]},"mark":{"type":"point","shape":"circle","filled":false,"color":"#6a2d8f","strokeWidth":3,"opacity":1,"size":12544},"encoding":{"x":{"field":"b","type":"quantitative","scale":{"domain":[4,1880],"nice":false,"zero":false}},"y":{"field":"p","type":"quantitative","scale":{"domain":[1.09399,1.12512],"nice":false,"zero":false}}}},
{"data":{"values":[{"b":920,"p":1.11739}]},"mark":{"type":"point","shape":"circle","filled":false,"color":"#6a2d8f","strokeWidth":3,"opacity":1,"size":13689},"encoding":{"x":{"field":"b","type":"quantitative","scale":{"domain":[4,1880],"nice":false,"zero":false}},"y":{"field":"p","type":"quantitative","scale":{"domain":[1.09399,1.12512],"nice":false,"zero":false}}}},
{"data":{"values":[{"b":626,"p":1.09902}]},"mark":{"type":"point","shape":"circle","filled":false,"color":"#e4413a","strokeWidth":3,"opacity":1,"size":11664},"encoding":{"x":{"field":"b","type":"quantitative","scale":{"domain":[4,1880],"nice":false,"zero":false}},"y":{"field":"p","type":"quantitative","scale":{"domain":[1.09399,1.12512],"nice":false,"zero":false}}}},
{"data":{"values":[{"b":1596,"p":1.11702}]},"mark":{"type":"point","shape":"circle","filled":false,"color":"#e4413a","strokeWidth":3,"opacity":1,"size":14400},"encoding":{"x":{"field":"b","type":"quantitative","scale":{"domain":[4,1880],"nice":false,"zero":false}},"y":{"field":"p","type":"quantitative","scale":{"domain":[1.09399,1.12512],"nice":false,"zero":false}}}},
{"data":{"values":[{"b":693,"p":1.10155,"b2":760,"p2":1.10532}]},"mark":{"type":"rule","color":"#c4532f","strokeWidth":7},"encoding":{"x":{"field":"b","type":"quantitative","scale":{"domain":[4,1880],"nice":false,"zero":false}},"x2":{"field":"b2"},"y":{"field":"p","type":"quantitative","scale":{"domain":[1.09399,1.12512],"nice":false,"zero":false}},"y2":{"field":"p2"}}},
{"data":{"values":[{"b":760,"p":1.10532}]},"mark":{"type":"point","shape":"triangle-up","filled":true,"color":"#c4532f","opacity":1,"size":1024,"angle":31},"encoding":{"x":{"field":"b","type":"quantitative","scale":{"domain":[4,1880],"nice":false,"zero":false}},"y":{"field":"p","type":"quantitative","scale":{"domain":[1.09399,1.12512],"nice":false,"zero":false}}}},
{"data":{"values":[{"b":972,"p":1.11926,"b2":996.8,"p2":1.12145},{"b":1521,"p":1.10862,"b2":1582.5,"p2":1.11211}]},"mark":{"type":"rule","color":"#1e5f67","strokeWidth":4.5},"encoding":{"x":{"field":"b","type":"quantitative","scale":{"domain":[4,1880],"nice":false,"zero":false}},"x2":{"field":"b2"},"y":{"field":"p","type":"quantitative","scale":{"domain":[1.09399,1.12512],"nice":false,"zero":false}},"y2":{"field":"p2"}}},
{"data":{"values":[{"b":996.8,"p":1.12145}]},"mark":{"type":"point","shape":"triangle-up","filled":true,"color":"#1e5f67","opacity":1,"size":289,"angle":21},"encoding":{"x":{"field":"b","type":"quantitative","scale":{"domain":[4,1880],"nice":false,"zero":false}},"y":{"field":"p","type":"quantitative","scale":{"domain":[1.09399,1.12512],"nice":false,"zero":false}}}},
{"data":{"values":[{"b":1582.5,"p":1.11211}]},"mark":{"type":"point","shape":"triangle-up","filled":true,"color":"#1e5f67","opacity":1,"size":400,"angle":31},"encoding":{"x":{"field":"b","type":"quantitative","scale":{"domain":[4,1880],"nice":false,"zero":false}},"y":{"field":"p","type":"quantitative","scale":{"domain":[1.09399,1.12512],"nice":false,"zero":false}}}},
{"data":{"values":[{"b":972,"p":1.11926},{"b":1521,"p":1.10862}]},"mark":{"type":"point","shape":"circle","filled":true,"color":"#1e5f67","opacity":1,"size":100},"encoding":{"x":{"field":"b","type":"quantitative","scale":{"domain":[4,1880],"nice":false,"zero":false}},"y":{"field":"p","type":"quantitative","scale":{"domain":[1.09399,1.12512],"nice":false,"zero":false}}}},
{"data":{"name":"blueNotes"},"mark":{"type":"text","font":"Liberation Sans","fontSize":25,"align":"center","baseline":"middle","fill":"#9c9c9c","stroke":"#9c9c9c","strokeWidth":7,"strokeJoin":"round","opacity":0.45,"dx":1.5,"dy":2},"encoding":{"x":{"field":"b","type":"quantitative","scale":{"domain":[4,1880],"nice":false,"zero":false}},"y":{"field":"p","type":"quantitative","scale":{"domain":[1.09399,1.12512],"nice":false,"zero":false}},"text":{"field":"t"}}},
{"data":{"name":"blueNotes"},"mark":{"type":"text","font":"Liberation Sans","fontSize":25,"align":"center","baseline":"middle","fill":"#ffffff","stroke":"#ffffff","strokeWidth":5,"strokeJoin":"round"},"encoding":{"x":{"field":"b","type":"quantitative","scale":{"domain":[4,1880],"nice":false,"zero":false}},"y":{"field":"p","type":"quantitative","scale":{"domain":[1.09399,1.12512],"nice":false,"zero":false}},"text":{"field":"t"}}},
{"data":{"name":"blueNotes"},"mark":{"type":"text","font":"Liberation Sans","fontSize":25,"align":"center","baseline":"middle","fill":"#4a5cd6"},"encoding":{"x":{"field":"b","type":"quantitative","scale":{"domain":[4,1880],"nice":false,"zero":false}},"y":{"field":"p","type":"quantitative","scale":{"domain":[1.09399,1.12512],"nice":false,"zero":false}},"text":{"field":"t"}}},
{"data":{"name":"redNotes"},"mark":{"type":"text","font":"Liberation Sans","fontSize":24,"align":"center","baseline":"middle","fill":"#9c9c9c","stroke":"#9c9c9c","strokeWidth":7,"strokeJoin":"round","opacity":0.45,"dx":1.5,"dy":2},"encoding":{"x":{"field":"b","type":"quantitative","scale":{"domain":[4,1880],"nice":false,"zero":false}},"y":{"field":"p","type":"quantitative","scale":{"domain":[1.09399,1.12512],"nice":false,"zero":false}},"text":{"field":"t"}}},
{"data":{"name":"redNotes"},"mark":{"type":"text","font":"Liberation Sans","fontSize":24,"align":"center","baseline":"middle","fill":"#ffffff","stroke":"#ffffff","strokeWidth":5,"strokeJoin":"round"},"encoding":{"x":{"field":"b","type":"quantitative","scale":{"domain":[4,1880],"nice":false,"zero":false}},"y":{"field":"p","type":"quantitative","scale":{"domain":[1.09399,1.12512],"nice":false,"zero":false}},"text":{"field":"t"}}},
{"data":{"name":"redNotes"},"mark":{"type":"text","font":"Liberation Sans","fontSize":24,"align":"center","baseline":"middle","fill":"#e5473c"},"encoding":{"x":{"field":"b","type":"quantitative","scale":{"domain":[4,1880],"nice":false,"zero":false}},"y":{"field":"p","type":"quantitative","scale":{"domain":[1.09399,1.12512],"nice":false,"zero":false}},"text":{"field":"t"}}},
{"data":{"values":[{"b":9,"p":1.12488,"t":"▼ EURUSD,M15  1.1229 1.1246 1.1228 1.1243"}]},"mark":{"type":"text","font":"Liberation Sans","fontSize":10.5,"align":"left","baseline":"middle","color":"#000"},"encoding":{"x":{"field":"b","type":"quantitative","scale":{"domain":[4,1880],"nice":false,"zero":false}},"y":{"field":"p","type":"quantitative","scale":{"domain":[1.09399,1.12512],"nice":false,"zero":false}},"text":{"field":"t"}}},
{"data":{"name":"weekBoxes"},"mark":{"type":"rect","color":"#2d8a2d"},"encoding":{"x":{"field":"b","type":"quantitative","scale":{"domain":[4,1880],"nice":false,"zero":false}},"x2":{"field":"b2"},"y":{"datum":1.09396,"type":"quantitative","scale":{"domain":[1.09399,1.12512],"nice":false,"zero":false}},"y2":{"datum":1.09345}}},
{"data":{"name":"weekBoxes"},"mark":{"type":"text","color":"#ffffff","font":"Liberation Sans","fontSize":8.6,"align":"center","baseline":"middle"},"encoding":{"x":{"field":"c","type":"quantitative","scale":{"domain":[4,1880],"nice":false,"zero":false}},"y":{"datum":1.0937,"type":"quantitative","scale":{"domain":[1.09399,1.12512],"nice":false,"zero":false}},"text":{"field":"t"}}},
{"data":{"values":[{"b":1882,"b2":1914,"p":1.12415,"p2":1.12447}]},"mark":{"type":"rect","color":"#000"},"encoding":{"x":{"field":"b","type":"quantitative","scale":{"domain":[4,1880],"nice":false,"zero":false}},"x2":{"field":"b2"},"y":{"field":"p","type":"quantitative","scale":{"domain":[1.09399,1.12512],"nice":false,"zero":false}},"y2":{"field":"p2"}}},
{"data":{"values":[{"b":1882,"b2":1914,"p":1.10734,"p2":1.10766}]},"mark":{"type":"rect","color":"#e4140e"},"encoding":{"x":{"field":"b","type":"quantitative","scale":{"domain":[4,1880],"nice":false,"zero":false}},"x2":{"field":"b2"},"y":{"field":"p","type":"quantitative","scale":{"domain":[1.09399,1.12512],"nice":false,"zero":false}},"y2":{"field":"p2"}}},
{"data":{"values":[{"b":1885,"p":1.12431,"t":"1.1243"},{"b":1885,"p":1.1075,"t":"1.1075"}]},"mark":{"type":"text","color":"#ffffff","font":"Liberation Sans","fontSize":9,"align":"left","baseline":"middle"},"encoding":{"x":{"field":"b","type":"quantitative","scale":{"domain":[4,1880],"nice":false,"zero":false}},"y":{"field":"p","type":"quantitative","scale":{"domain":[1.09399,1.12512],"nice":false,"zero":false}},"text":{"field":"t"}}}
]
}
